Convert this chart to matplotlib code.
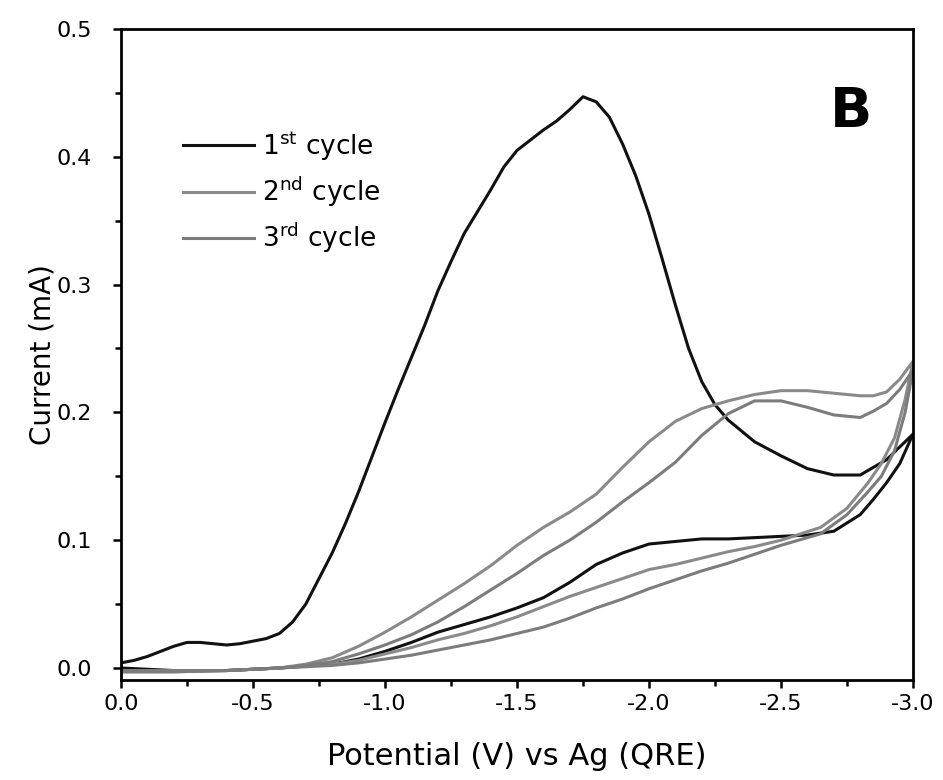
import numpy as np
import matplotlib
matplotlib.use("Agg")
from matplotlib import pyplot as plt
from matplotlib.ticker import MultipleLocator, FormatStrFormatter

# ---- data (potential in V, current in mA) ----
# 1st cycle, forward scan (0 -> -3 V)
c1_fwd_v = [0.0, -0.05, -0.1, -0.15, -0.2, -0.25, -0.3, -0.35, -0.4, -0.45, -0.5, -0.55,
            -0.6, -0.65, -0.7, -0.75, -0.8, -0.85, -0.9, -0.95, -1.0, -1.05, -1.1, -1.15,
            -1.2, -1.25, -1.3, -1.35, -1.4, -1.45, -1.5, -1.55, -1.6, -1.65, -1.7, -1.75,
            -1.8, -1.85, -1.9, -1.95, -2.0, -2.05, -2.1, -2.15, -2.2, -2.25, -2.3, -2.4, -2.5,
            -2.6, -2.7, -2.8, -2.9, -3.0]
c1_fwd_i = [0.004, 0.006, 0.009, 0.013, 0.017, 0.020, 0.020, 0.019, 0.018, 0.019, 0.021, 0.023,
            0.027, 0.036, 0.050, 0.070, 0.090, 0.113, 0.138, 0.165, 0.192, 0.218, 0.243, 0.268,
            0.295, 0.318, 0.340, 0.357, 0.374, 0.392, 0.405, 0.413, 0.421, 0.428, 0.437, 0.447,
            0.443, 0.431, 0.410, 0.385, 0.355, 0.320, 0.284, 0.250, 0.224, 0.206, 0.194, 0.177, 0.166,
            0.156, 0.151, 0.151, 0.163, 0.183]
# 1st cycle, reverse scan (-3 -> 0 V)
c1_rev_v = [-3.0, -2.95, -2.9, -2.85, -2.8, -2.7, -2.6, -2.5, -2.4, -2.3, -2.2, -2.1, -2.0,
            -1.9, -1.8, -1.7, -1.6, -1.5, -1.4, -1.3, -1.2, -1.1, -1.0, -0.9, -0.8, -0.6,
            -0.4, -0.2, 0.0]
c1_rev_i = [0.183, 0.160, 0.145, 0.132, 0.120, 0.107, 0.104, 0.103, 0.102, 0.101, 0.101, 0.099, 0.097,
            0.090, 0.081, 0.067, 0.055, 0.047, 0.040, 0.034, 0.028, 0.020, 0.013, 0.007, 0.003, 0.000,
            -0.002, -0.002, 0.000]

# 2nd cycle
c2_fwd_v = [0.0, -0.2, -0.4, -0.6, -0.7, -0.8, -0.9, -1.0, -1.1, -1.2, -1.3, -1.4, -1.5, -1.6,
            -1.7, -1.8, -1.9, -2.0, -2.1, -2.2, -2.3, -2.4, -2.5, -2.6, -2.7, -2.8, -2.85,
            -2.9, -2.95, -3.0]
c2_fwd_i = [-0.002, -0.002, -0.002, 0.000, 0.003, 0.008, 0.017, 0.028, 0.040, 0.053, 0.066, 0.080,
            0.096, 0.110, 0.122, 0.136, 0.157, 0.177, 0.193, 0.203, 0.209, 0.214, 0.217, 0.217,
            0.215, 0.213, 0.213, 0.216, 0.226, 0.240]
c2_rev_v = [-3.0, -2.97, -2.93, -2.88, -2.83, -2.75, -2.65, -2.5, -2.4, -2.3, -2.2, -2.1, -2.0,
            -1.9, -1.8, -1.7, -1.6, -1.5, -1.4, -1.3, -1.2, -1.1, -1.0, -0.9, -0.8, -0.6,
            -0.4, -0.2, 0.0]
c2_rev_i = [0.240, 0.210, 0.180, 0.160, 0.145, 0.125, 0.110, 0.100, 0.095, 0.091, 0.086, 0.081, 0.077,
            0.070, 0.063, 0.056, 0.048, 0.040, 0.033, 0.027, 0.022, 0.016, 0.011, 0.006, 0.003, 0.000,
            -0.002, -0.003, -0.003]

# 3rd cycle
c3_fwd_v = [0.0, -0.2, -0.4, -0.6, -0.7, -0.8, -0.9, -1.0, -1.1, -1.2, -1.3, -1.4, -1.5, -1.6,
            -1.7, -1.8, -1.9, -2.0, -2.1, -2.2, -2.3, -2.4, -2.5, -2.6, -2.7, -2.8, -2.85,
            -2.9, -2.95, -3.0]
c3_fwd_i = [-0.002, -0.002, -0.002, 0.000, 0.002, 0.005, 0.011, 0.018, 0.026, 0.036, 0.048, 0.061,
            0.074, 0.088, 0.100, 0.114, 0.130, 0.145, 0.161, 0.182, 0.199, 0.209, 0.209, 0.204,
            0.198, 0.196, 0.201, 0.207, 0.218, 0.233]
c3_rev_v = [-3.0, -2.97, -2.93, -2.88, -2.83, -2.75, -2.65, -2.5, -2.4, -2.3, -2.2, -2.1, -2.0,
            -1.9, -1.8, -1.7, -1.6, -1.5, -1.4, -1.3, -1.2, -1.1, -1.0, -0.9, -0.8, -0.6,
            -0.4, -0.2, 0.0]
c3_rev_i = [0.233, 0.200, 0.170, 0.150, 0.138, 0.120, 0.105, 0.096, 0.089, 0.082, 0.076, 0.069, 0.062,
            0.054, 0.047, 0.039, 0.032, 0.027, 0.022, 0.018, 0.014, 0.010, 0.007, 0.004, 0.002, 0.000,
            -0.002, -0.003, -0.003]

labels = [r"1$^{\mathrm{st}}$ cycle", r"2$^{\mathrm{nd}}$ cycle", r"3$^{\mathrm{rd}}$ cycle"]
xticks = [0.0, -0.5, -1.0, -1.5, -2.0, -2.5, -3.0]
yticks = [0.0, 0.1, 0.2, 0.3, 0.4, 0.5]

plt.rcParams['font.family'] = ['DejaVu Sans']
plt.rcParams['axes.unicode_minus'] = False
plt.rcParams['mathtext.fontset'] = 'dejavusans'

fig = plt.figure(figsize=(9.43, 7.8), dpi=100)
ax = fig.add_axes([121 / 943, 1 - 680 / 780, (913 - 121) / 943, (680 - 29) / 780])

cycles = [
    (c1_fwd_v + c1_rev_v, c1_fwd_i + c1_rev_i, "#111111", 2.2),
    (c2_fwd_v + c2_rev_v, c2_fwd_i + c2_rev_i, "#8a8a8a", 2.2),
    (c3_fwd_v + c3_rev_v, c3_fwd_i + c3_rev_i, "#7c7c7c", 2.2),
]
for (v, i, col, lw), lab in zip(cycles, labels):
    ax.plot(v, i, color=col, lw=lw, label=lab, solid_joinstyle="round")

ax.set_xlim(0, -3.0)
ax.set_ylim(-0.0094, 0.5)
ax.set_xticks(xticks)
ax.set_yticks(yticks)
ax.xaxis.set_major_formatter(FormatStrFormatter("%.1f"))
ax.yaxis.set_major_formatter(FormatStrFormatter("%.1f"))
ax.xaxis.set_minor_locator(MultipleLocator(0.25))
ax.yaxis.set_minor_locator(MultipleLocator(0.05))
ax.tick_params(which="both", direction="out", top=False, right=False, width=1.8)
ax.tick_params(which="major", length=6, labelsize=16)
ax.tick_params(which="minor", length=4)
ax.tick_params(axis="x", which="major", pad=4)
ax.tick_params(axis="y", which="major", pad=15)
for s in ax.spines.values():
    s.set_linewidth(2.0)

ax.set_xlabel("Potential (V) vs Ag (QRE)", fontsize=22, labelpad=20)
ax.set_ylabel("Current (mA)", fontsize=20, labelpad=0)

leg = ax.legend(loc="upper left", bbox_to_anchor=(0.048, 0.883), frameon=False,
                fontsize=19, handlelength=2.7, handletextpad=0.3, labelspacing=0.45)

ax.text(0.922, 0.872, "B", transform=ax.transAxes, fontsize=40, fontweight="bold",
        ha="center", va="center")

fig.savefig("out.png", dpi=100)
plt.close("all")
